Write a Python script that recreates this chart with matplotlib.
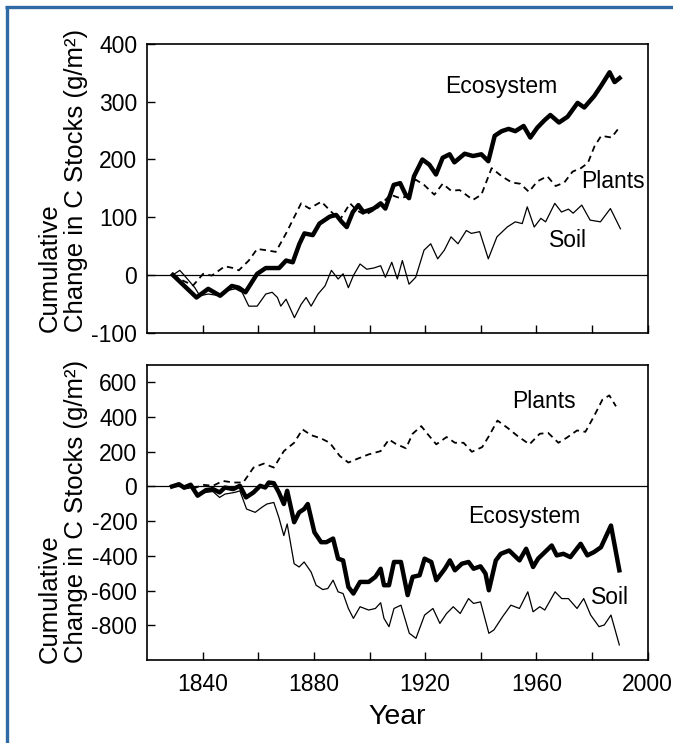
import matplotlib
matplotlib.use('Agg')
import matplotlib.pyplot as plt
from matplotlib.lines import Line2D

plt.rcParams['font.family'] = ['Liberation Sans', 'DejaVu Sans']
plt.rcParams['axes.unicode_minus'] = False

# --- data: (year, cumulative change g/m2) ---
top_ecosystem = [
    (1829.3, 0), (1837.8, -39), (1842, -24), (1846.3, -36), (1850.5, -19), (1853, -22),
    (1855.4, -30), (1859.6, 2), (1862.7, 12), (1867.5, 12), (1870, 25), (1872.4, 22),
    (1874.8, 54), (1876.6, 72), (1879.6, 69), (1882, 89), (1885.7, 101), (1888, 104),
    (1890, 92), (1891.8, 83), (1894, 109), (1896, 121), (1897.8, 109), (1901.5, 115),
    (1904, 124), (1905.7, 115), (1908.7, 156), (1911, 159), (1913, 139), (1914.2, 133),
    (1916, 171), (1919, 200), (1921.5, 191), (1923.9, 174), (1926.3, 203), (1928.8, 209),
    (1930.5, 195), (1934.2, 210), (1937.2, 206), (1940.2, 209), (1942.7, 197), (1945, 241),
    (1947.5, 249), (1950, 253), (1952.4, 249), (1955.4, 258), (1957.8, 238), (1960.3, 255),
    (1962.7, 267), (1965, 277), (1968.1, 264), (1971.2, 274), (1974.8, 298), (1977.2, 290),
    (1980.8, 310), (1983.3, 328), (1986.3, 351), (1988.1, 334), (1989.9, 341),
]
top_plants = [
    (1829.3, 0), (1833, -10), (1836.6, -18), (1840.2, 2), (1843.3, -1), (1848, 15),
    (1851, 12), (1853, 8), (1856.6, 25), (1859.6, 45), (1862.7, 43), (1866.3, 40),
    (1870, 72), (1875.4, 124), (1878.4, 115), (1882.7, 127), (1885.7, 112), (1889.3, 95),
    (1893, 124), (1895.4, 112), (1898.4, 104), (1902.7, 115), (1907.5, 139), (1911, 133),
    (1913.6, 136), (1916.6, 165), (1919.6, 156), (1923.3, 139), (1926.3, 158), (1929.3, 146),
    (1932.4, 147), (1937.2, 130), (1940.2, 139), (1943.9, 185), (1947.5, 171), (1951.2, 160),
    (1954.2, 158), (1957.3, 144), (1960.3, 162), (1963.9, 171), (1966.9, 154), (1970, 160),
    (1973, 179), (1976, 185), (1978.5, 194), (1980.9, 223), (1983.3, 241), (1987, 238),
    (1989.4, 253),
]
top_soil = [
    (1829.3, 0), (1831.8, 8), (1834, -4), (1837.2, -22), (1839, -36), (1842, -33),
    (1846.3, -36), (1848.7, -27), (1851.8, -24), (1854.2, -30), (1856.6, -54), (1859.6, -54),
    (1862.7, -33), (1865, -30), (1866.9, -39), (1868.1, -54), (1870, -42), (1873, -74),
    (1875.4, -51), (1877.2, -39), (1879, -54), (1881.5, -33), (1884, -19), (1886.3, 8),
    (1888.7, -7), (1890.5, 2), (1892.4, -22), (1894.2, -1), (1896.6, 19), (1899, 10),
    (1901.5, 12), (1904, 16), (1905.7, -4), (1908, 22), (1910, -7), (1911.8, 25),
    (1914.2, -16), (1916.6, -4), (1919.6, 43), (1922, 54), (1924.5, 28), (1926.9, 43),
    (1929.3, 66), (1931.8, 54), (1934.8, 77), (1936.6, 72), (1939.6, 75), (1942.7, 28),
    (1945.8, 66), (1949.5, 83), (1952.4, 92), (1954.9, 89), (1956.7, 118), (1959.2, 83),
    (1961.6, 98), (1963.3, 92), (1966.6, 124), (1969, 109), (1971.5, 114), (1973.2, 107),
    (1976.3, 121), (1979.3, 95), (1983, 92), (1986.6, 115), (1990.2, 80),
]

bottom_plants = [
    (1829, 0), (1832.7, 4), (1836.3, -15), (1840, 10), (1843.7, 4), (1847.3, 32),
    (1851, 23), (1854.6, 23), (1858.3, 109), (1862, 132), (1865.6, 109), (1869.2, 204),
    (1872.9, 252), (1875.9, 329), (1879, 296), (1882.6, 277), (1885.7, 252), (1889.3, 176),
    (1892.4, 138), (1896, 162), (1899.7, 185), (1904, 204), (1907, 271), (1909.4, 246),
    (1913.1, 220), (1915.5, 304), (1918.6, 348), (1921, 300), (1924, 243), (1927.7, 285),
    (1930.7, 252), (1933.8, 252), (1936.8, 200), (1940.5, 227), (1942.9, 290), (1946, 380),
    (1949.6, 338), (1953.3, 290), (1957.5, 243), (1961.2, 304), (1964.2, 309), (1967.9, 252),
    (1970.9, 281), (1974.6, 323), (1977.6, 315), (1980.7, 405), (1983.7, 500), (1986.2, 525),
    (1988.6, 462),
]
bottom_ecosystem = [
    (1829, 0), (1831.5, 13), (1833.3, -6), (1835.7, 10), (1838.2, -53), (1841.2, -21),
    (1843.7, -15), (1846.1, -34), (1848, -6), (1851, -15), (1853.4, 4), (1855.6, -63),
    (1858.3, -34), (1860.7, 4), (1862.5, -6), (1863.8, 23), (1865.6, 19), (1867.4, -34),
    (1869.2, -101), (1870.4, -25), (1872.9, -206), (1874.7, -149), (1876.5, -130),
    (1877.8, -101), (1880.2, -264), (1882.6, -321), (1884.5, -321), (1886.9, -300),
    (1888.7, -416), (1890.5, -426), (1892.4, -579), (1894.2, -617), (1896.6, -550),
    (1899.7, -550), (1902.1, -521), (1904, -474), (1905.2, -569), (1907, -569),
    (1908.8, -435), (1911.3, -435), (1913.7, -626), (1915.5, -521), (1918, -512),
    (1919.8, -416), (1922.2, -435), (1924, -540), (1927.1, -474), (1928.9, -426),
    (1930.7, -483), (1933.2, -445), (1935.6, -435), (1937.4, -474), (1939.9, -460),
    (1941.7, -502), (1942.9, -598), (1945.4, -426), (1947.2, -388), (1950.2, -369),
    (1953.9, -426), (1956.3, -359), (1958.8, -464), (1960.6, -416), (1962.4, -388),
    (1965.5, -340), (1967.3, -397), (1969.7, -388), (1972.2, -407), (1975.9, -330),
    (1978.3, -397), (1980.7, -378), (1983.2, -350), (1986.8, -225), (1989.8, -483),
]
bottom_soil = [
    (1829, 0), (1831.5, 10), (1833.3, -15), (1836.3, -6), (1838.2, -44), (1841.2, -34),
    (1843.7, -29), (1846.1, -63), (1848, -44), (1851.6, -34), (1853.4, -25), (1855.8, -130),
    (1858.9, -149), (1861.3, -120), (1863.1, -101), (1865.6, -92), (1867.4, -178),
    (1869.2, -283), (1870.4, -216), (1872.9, -445), (1874.7, -464), (1876.5, -435),
    (1879, -493), (1880.8, -569), (1883.2, -594), (1885, -588), (1886.9, -540),
    (1888.7, -607), (1890.5, -617), (1892.4, -703), (1894.2, -760), (1896.6, -693),
    (1899.7, -712), (1902.1, -703), (1904, -670), (1905.2, -760), (1907, -808),
    (1908.8, -703), (1911.3, -684), (1914.3, -846), (1916.7, -875), (1919.8, -741),
    (1922.8, -703), (1925.3, -789), (1927.7, -732), (1930.1, -693), (1932.6, -732),
    (1935.6, -646), (1937.4, -674), (1939.9, -665), (1942.9, -846), (1944.7, -827),
    (1947.8, -751), (1950.8, -684), (1953.9, -703), (1956.9, -607), (1958.8, -722),
    (1961.2, -693), (1963, -712), (1966.7, -607), (1969.1, -646), (1971.5, -646),
    (1974.6, -703), (1977, -646), (1979.5, -741), (1982.5, -808), (1984.4, -798),
    (1986.8, -741), (1989.8, -913),
]

# label text, (year, value) anchor
top_labels = [('Ecosystem', 1947.5, 326), ('Plants', 1987.5, 161), ('Soil', 1971.3, 60)]
bottom_labels = [('Plants', 1962.6, 488), ('Ecosystem', 1955.7, -175), ('Soil', 1986.4, -641)]

x_ticks = [1840, 1860, 1880, 1900, 1920, 1940, 1960, 1980, 2000]
x_ticklabels = ['1840', '', '1880', '', '1920', '', '1960', '', '2000']
top_yticks = [-100, 0, 100, 200, 300, 400]
bottom_yticks = [-800, -600, -400, -200, 0, 200, 400, 600]


def draw_series(ax, eco, plants, soil):
    xs, ys = zip(*plants)
    ax.plot(xs, ys, color='black', lw=1.3, linestyle=(0, (3.5, 2.5)))
    xs, ys = zip(*soil)
    ax.plot(xs, ys, color='black', lw=0.9)
    xs, ys = zip(*eco)
    ax.plot(xs, ys, color='black', lw=3.2, solid_joinstyle='round')
    ax.axhline(0, color='black', lw=0.9)


def style_axes(ax):
    ax.set_xlim(1820, 2000)
    ax.set_xticks(x_ticks)
    ax.tick_params(direction='in', length=5.5, width=1.0, labelsize=16.5, pad=7,
                   top=False, right=False)
    for sp in ax.spines.values():
        sp.set_linewidth(1.2)


fig = plt.figure(figsize=(6.73, 7.43), dpi=100)

ax1 = fig.add_axes([0.2184, 0.5522, 0.744, 0.3886])
draw_series(ax1, top_ecosystem, top_plants, top_soil)
style_axes(ax1)
ax1.set_ylim(-100, 400)
ax1.set_yticks(top_yticks)
ax1.set_xticklabels([])
for txt, x, y in top_labels:
    ax1.text(x, y, txt, fontsize=16.5, ha='center', va='center')

ax2 = fig.add_axes([0.2184, 0.1117, 0.744, 0.397])
draw_series(ax2, bottom_ecosystem, bottom_plants, bottom_soil)
style_axes(ax2)
ax2.set_ylim(-1000, 700)
ax2.set_yticks(bottom_yticks)
ax2.set_xticklabels(x_ticklabels)
ax2.tick_params(axis='x', pad=9)
ax2.set_xlabel('Year', fontsize=20.5, labelpad=6)
for txt, x, y in bottom_labels:
    ax2.text(x, y, txt, fontsize=16.5, ha='center', va='center')

# two-line y labels, left-aligned so both lines start at the axes bottom
ylab = 'Cumulative\nChange in C Stocks (g/m²)'
fig.text(0.0935, 1 - 332 / 743, ylab, rotation=90, fontsize=18.5, ha='center', va='bottom',
         multialignment='left', linespacing=1.1)
fig.text(0.0935, 1 - 663 / 743, ylab, rotation=90, fontsize=18.5, ha='center', va='bottom',
         multialignment='left', linespacing=1.1)

# blue frame on the left and top edges
frame_col = '#2f6aa5'
fig.add_artist(Line2D([6.5 / 673, 6.5 / 673], [0, 1 - 6 / 743], color=frame_col, lw=2.4,
                      transform=fig.transFigure, solid_capstyle='butt'))
fig.add_artist(Line2D([5.3 / 673, 1], [1 - 6.5 / 743, 1 - 6.5 / 743], color=frame_col, lw=2.4,
                      transform=fig.transFigure, solid_capstyle='butt'))

fig.savefig('out.png', dpi=100)
